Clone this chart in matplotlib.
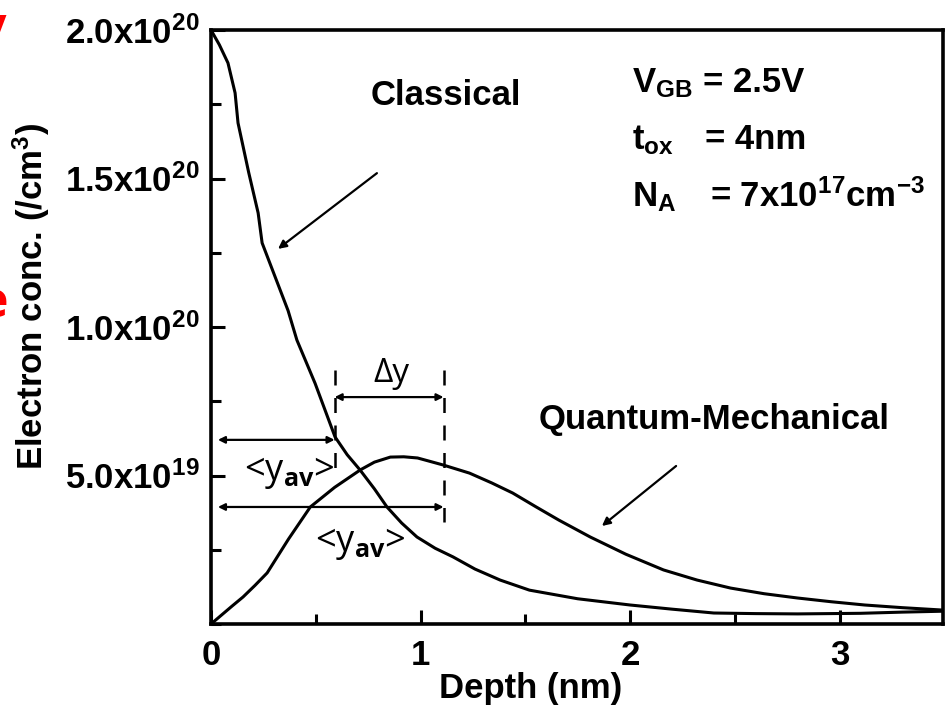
import matplotlib
matplotlib.use('Agg')
import matplotlib.pyplot as plt
from matplotlib.ticker import FixedLocator, MultipleLocator

plt.rcParams['font.family'] = ['Liberation Sans', 'DejaVu Sans']
plt.rcParams['font.weight'] = 'bold'
plt.rcParams['mathtext.fontset'] = 'custom'
plt.rcParams['mathtext.rm'] = 'Liberation Sans:bold'
plt.rcParams['mathtext.it'] = 'Liberation Sans:bold'
plt.rcParams['mathtext.bf'] = 'Liberation Sans:bold'
plt.rcParams['mathtext.sf'] = 'Open Sans'

# depth in nm, electron concentration in units of 1e20 /cm^3
classical_depth = [0, 0.04, 0.081, 0.115, 0.129, 0.18, 0.225, 0.244, 0.30, 0.368, 0.41,
                   0.497, 0.592, 0.65, 0.711, 0.78, 0.84, 0.91, 0.983, 1.07, 1.155, 1.26,
                   1.38, 1.52, 1.75, 2.0, 2.2, 2.4, 2.6, 2.8, 3.1, 3.3, 3.49]
classical_conc = [2.0, 1.95, 1.889, 1.788, 1.687, 1.52, 1.384, 1.283, 1.18, 1.055, 0.956,
                  0.81, 0.63, 0.57, 0.519, 0.455, 0.394, 0.34, 0.293, 0.255, 0.226, 0.185,
                  0.148, 0.114, 0.085, 0.064, 0.05, 0.037, 0.035, 0.034, 0.036, 0.04, 0.043]

qm_depth = [0, 0.05, 0.10, 0.153, 0.21, 0.268, 0.37, 0.474, 0.59, 0.713, 0.78, 0.856,
            0.92, 0.986, 1.043, 1.11, 1.234, 1.34, 1.44, 1.55, 1.66, 1.81, 1.98, 2.16,
            2.32, 2.48, 2.64, 2.80, 2.96, 3.12, 3.30, 3.49]
qm_conc = [0, 0.03, 0.06, 0.091, 0.13, 0.172, 0.286, 0.394, 0.46, 0.519, 0.545, 0.562,
           0.563, 0.559, 0.548, 0.535, 0.508, 0.475, 0.441, 0.395, 0.35, 0.293, 0.235, 0.182,
           0.148, 0.121, 0.102, 0.0875, 0.075, 0.064, 0.055, 0.047]

y_ticks = [0.5, 1.0, 1.5, 2.0]
y_tick_labels = [r'5.0x10$^{19}$', r'1.0x10$^{20}$', r'1.5x10$^{20}$', r'2.0x10$^{20}$']
x_ticks = [0, 1, 2, 3]
x_tick_labels = ['0', '1', '2', '3']

# average depths (nm) and the level of their arrows
y_av_classical = 0.59
y_av_qm = 1.11

fig = plt.figure(figsize=(9.51, 7.07), dpi=100)
ax = fig.add_axes([211 / 951, 1 - 624 / 707, 732 / 951, 594 / 707])

ax.plot(classical_depth, classical_conc, color='black', lw=2.2)
ax.plot(qm_depth, qm_conc, color='black', lw=2.2)

ax.set_xlim(0, 3.494)
ax.set_ylim(0, 2.0)

ax.xaxis.set_major_locator(FixedLocator(x_ticks))
ax.xaxis.set_minor_locator(MultipleLocator(0.5))
ax.set_xticklabels(x_tick_labels)
ax.yaxis.set_major_locator(FixedLocator(y_ticks))
ax.yaxis.set_minor_locator(MultipleLocator(0.25))
ax.set_yticklabels(y_tick_labels)

ax.tick_params(which='both', direction='in', top=False, right=False, width=2.2)
ax.tick_params(which='major', length=10, labelsize=25, pad=8)
ax.tick_params(axis='x', which='major', pad=11)
ax.tick_params(which='minor', length=7)
for s in ax.spines.values():
    s.set_linewidth(2.6)

ax.set_xlabel('Depth (nm)', fontsize=25, fontweight='bold')
ax.xaxis.set_label_coords(0.437, -0.08)
ax.set_ylabel(r'Electron conc. (/cm$^{3}$)', fontsize=25, fontweight='bold')
ax.yaxis.set_label_coords(-0.217, 0.552)

# curve labels and pointers
ax.text(1.122, 1.781, 'Classical', fontsize=25, fontweight='bold', ha='center', va='center')
ax.annotate('', xy=(0.32, 1.263), xytext=(0.792, 1.518),
            arrowprops=dict(arrowstyle='-|>', lw=1.6, color='black', mutation_scale=12,
                            shrinkA=0, shrinkB=0))
ax.text(2.401, 0.687, 'Quantum-Mechanical', fontsize=25, fontweight='bold', ha='center', va='center')
ax.annotate('', xy=(1.866, 0.330), xytext=(2.22, 0.532),
            arrowprops=dict(arrowstyle='-|>', lw=1.6, color='black', mutation_scale=12,
                            shrinkA=0, shrinkB=0))

# device parameters
ax.text(2.01, 1.822, r'V$_{GB}$', fontsize=25, fontweight='bold', va='center')
ax.text(2.348, 1.822, '= 2.5V', fontsize=25, fontweight='bold', va='center')
ax.text(2.01, 1.63, r't$_{ox}$', fontsize=25, fontweight='bold', va='center')
ax.text(2.358, 1.63, '= 4nm', fontsize=25, fontweight='bold', va='center')
ax.text(2.01, 1.438, r'N$_{A}$', fontsize=25, fontweight='bold', va='center')
ax.text(2.382, 1.438, r'= 7x10$^{17}$cm$^{-3}$', fontsize=25, fontweight='bold', va='center')

# <y_av> and delta y markers
arrow_kw = dict(arrowstyle='<|-|>', lw=1.6, color='black', mutation_scale=10,
                shrinkA=0, shrinkB=0)
ax.annotate('', xy=(y_av_classical, 0.62), xytext=(0.033, 0.62), arrowprops=arrow_kw)
ax.annotate('', xy=(y_av_qm, 0.394), xytext=(0.033, 0.394), arrowprops=arrow_kw)
ax.annotate('', xy=(y_av_qm, 0.764), xytext=(y_av_classical, 0.764), arrowprops=arrow_kw)
ax.plot([y_av_classical, y_av_classical], [0.855, 0.525], color='black', lw=1.8,
        dashes=(6, 5))
ax.plot([y_av_qm, y_av_qm], [0.855, 0.343], color='black', lw=1.8, dashes=(6, 5))

ann_font = ['Open Sans', 'DejaVu Sans']
ax.text(0.859, 0.845, '\u0394y', fontsize=24, family=ann_font, fontweight='normal',
        ha='center', va='center')
ax.text(0.372, 0.51, r'<y$_{\mathsf{av}}$>', fontsize=26, family=ann_font,
        fontweight='normal', ha='center', va='center')
ax.text(0.711, 0.27, r'<y$_{\mathsf{av}}$>', fontsize=26, family=ann_font,
        fontweight='normal', ha='center', va='center')

# clipped red text fragments at the left edge
fig.text(0.007, 0.995, 'y', color='red', fontsize=36, family=ann_font, ha='right', va='top')
fig.text(0.009, 0.57, 'e', color='red', fontsize=36, family=ann_font, ha='right', va='center')

fig.savefig('out.png', dpi=100)
